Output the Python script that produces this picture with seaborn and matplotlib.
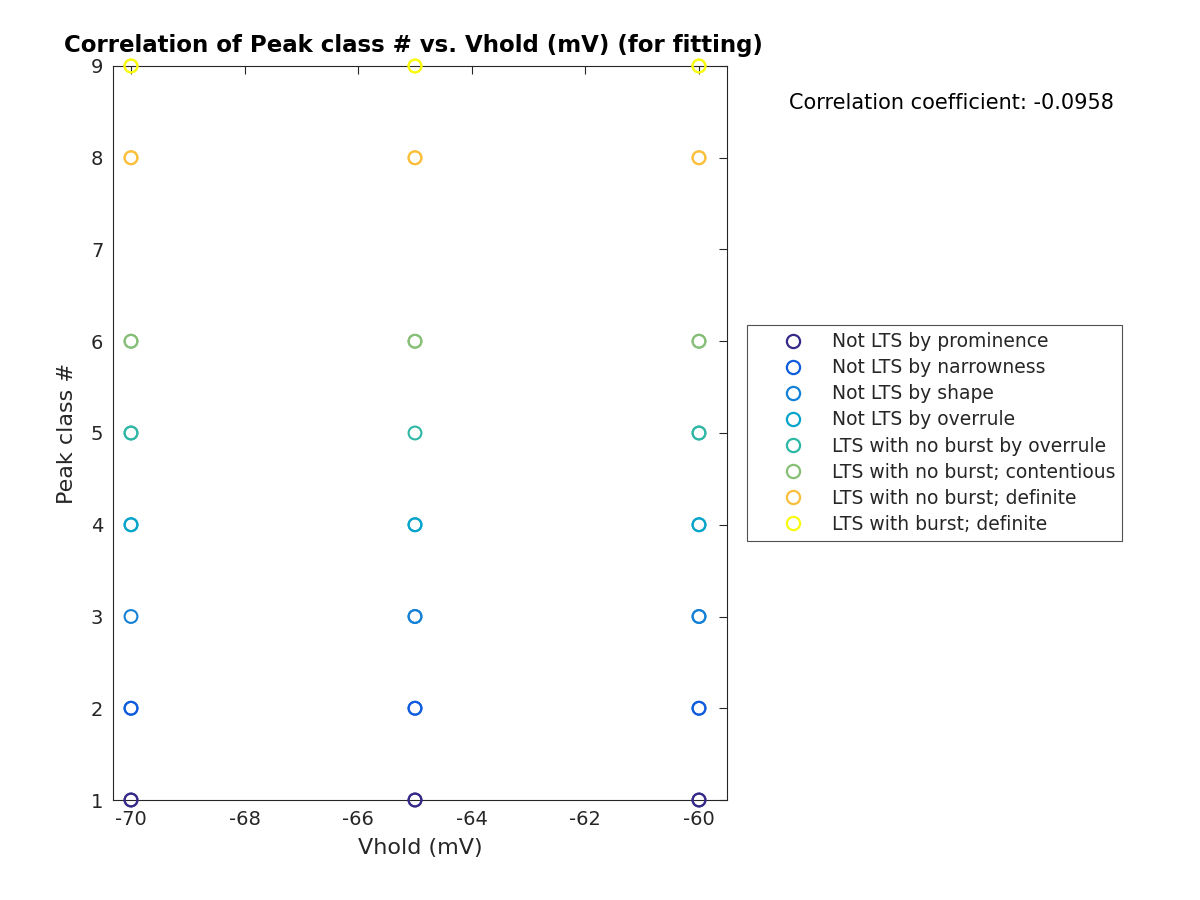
import matplotlib
matplotlib.use("Agg")
import matplotlib.pyplot as plt
import seaborn as sns
import pandas as pd
from matplotlib.lines import Line2D

# ---- data ----
class_labels = [
    "Not LTS by prominence",
    "Not LTS by narrowness",
    "Not LTS by shape",
    "Not LTS by overrule",
    "LTS with no burst by overrule",
    "LTS with no burst; contentious",
    "LTS with no burst; definite",
    "LTS with burst; definite",
]
class_numbers = [1, 2, 3, 4, 5, 6, 8, 9]
class_colors = ["#352a87", "#0f5cdd", "#1481d6", "#06a4ca",
                "#2eb7a4", "#87bf77", "#fbbf3c", "#f9fb0e"]

# (vhold, peak class) points; repeated entries mark overlapping points
vhold_values = [-70, -70, -70, -70, -70, -70, -70, -70, -70, -70, -70, -70, -70, -70, -70,
                -65, -65, -65, -65, -65, -65, -65, -65, -65, -65, -65, -65, -65, -65, -65,
                -60, -60, -60, -60, -60, -60, -60, -60, -60, -60, -60, -60, -60, -60, -60, -60]
peak_class_values = [1, 1, 2, 2, 3, 4, 4, 5, 5, 6, 6, 8, 8, 9, 9,
                     1, 1, 2, 2, 3, 3, 4, 4, 5, 6, 6, 8, 8, 9, 9,
                     1, 1, 2, 2, 3, 3, 4, 4, 5, 5, 6, 6, 8, 8, 9, 9]
corr_text = "Correlation coefficient: -0.0958"
title_text = "Correlation of Peak class # vs. Vhold (mV) (for fitting)"
x_ticks = [-70, -68, -66, -64, -62, -60]
y_ticks = [1, 2, 3, 4, 5, 6, 7, 8, 9]

df = pd.DataFrame({"Vhold": vhold_values, "Peak": peak_class_values})
num_to_label = dict(zip(class_numbers, class_labels))
df["cls"] = df["Peak"].map(num_to_label)
palette = dict(zip(class_labels, class_colors))

sns.set_style("white")
plt.rcParams["font.family"] = ["DejaVu Sans"]
plt.rcParams["axes.unicode_minus"] = False

fig = plt.figure(figsize=(12, 9), dpi=100)
ax = fig.add_axes([113 / 1200, 1 - 800 / 900, (727 - 113) / 1200, (800 - 66) / 900])

sns.scatterplot(data=df, x="Vhold", y="Peak", hue="cls", hue_order=class_labels,
                palette=palette, s=85, marker="o", legend=False, ax=ax, zorder=3)
for coll in ax.collections:
    fc = coll.get_facecolors()
    coll.set_edgecolors(fc)
    coll.set_facecolors("none")
    coll.set_linewidths(1.5)
    coll.set_clip_on(False)

ax.set_xlim(-70.317, -59.507)
ax.set_ylim(1, 9)
ax.set_xticks(x_ticks)
ax.set_yticks(y_ticks)
ax.tick_params(direction="in", top=True, right=True, length=6, width=0.8,
               labelsize=14, colors="#262626", pad=7)
for sp in ax.spines.values():
    sp.set_visible(True)
    sp.set_color("#262626")
    sp.set_linewidth(0.8)
ax.set_xlabel("Vhold (mV)", fontsize=16, color="#262626", labelpad=7)
ax.set_ylabel("Peak class #", fontsize=16, color="#262626", labelpad=10)
ax.set_title(title_text, fontsize=16.5, fontweight="bold", pad=10, x=0.49, color="black")

fig.text(951 / 1200, 1 - 103 / 900, corr_text, ha="center", va="center", fontsize=15,
         color="black")

handles = [Line2D([0], [0], marker="o", linestyle="none", markerfacecolor="none",
                  markeredgecolor=c, markersize=9.5, markeredgewidth=1.6)
           for c in class_colors]
leg = fig.legend(handles, class_labels, loc="center left",
                 bbox_to_anchor=(747 / 1200, 1 - 433 / 900), borderaxespad=0,
                 fontsize=13.5, frameon=True, fancybox=False, edgecolor="#262626",
                 handletextpad=0.0, borderpad=0.37, labelspacing=0.38, handlelength=4.15)
leg.get_frame().set_linewidth(0.8)

fig.savefig("out.png", dpi=100)
